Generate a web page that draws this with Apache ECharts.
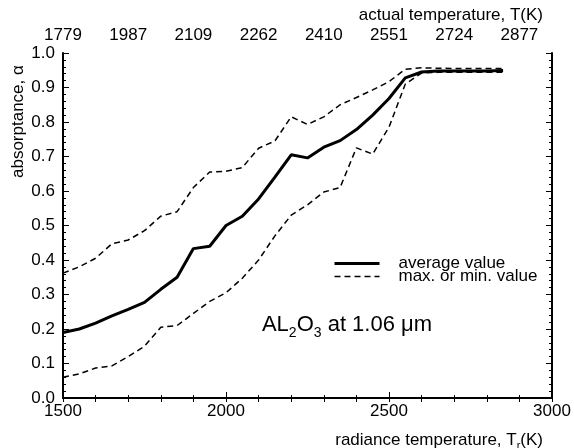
<!DOCTYPE html>
<html>
<head>
<meta charset="utf-8">
<script src="https://cdn.jsdelivr.net/npm/echarts@6/dist/echarts.min.js"></script>
<style>
  html, body { margin: 0; padding: 0; background: #fff; }
  #chart { width: 574px; height: 448px; }
</style>
</head>
<body>
<div id="chart"></div>
<script>
  // radiance temperature Tr (K)
  var radianceTemps = [1500, 1550, 1600, 1650, 1700, 1750, 1800, 1850, 1900, 1950,
    2000, 2050, 2100, 2150, 2200, 2250, 2300, 2350, 2400, 2450,
    2500, 2550, 2600, 2650, 2700, 2750, 2800, 2850];
  var averageValues = [0.190, 0.200, 0.217, 0.238, 0.257, 0.277, 0.315, 0.350, 0.433, 0.440,
    0.500, 0.527, 0.577, 0.640, 0.705, 0.696, 0.727, 0.746, 0.778, 0.820,
    0.868, 0.928, 0.945, 0.948, 0.948, 0.948, 0.948, 0.949];
  var maxValues = [0.362, 0.380, 0.405, 0.447, 0.458, 0.485, 0.527, 0.540, 0.610, 0.655,
    0.657, 0.668, 0.724, 0.745, 0.815, 0.793, 0.815, 0.850, 0.871, 0.893,
    0.917, 0.953, 0.957, 0.956, 0.955, 0.955, 0.955, 0.955];
  var minValues = [0.060, 0.070, 0.087, 0.093, 0.120, 0.150, 0.205, 0.210, 0.245, 0.280,
    0.305, 0.347, 0.400, 0.470, 0.530, 0.560, 0.597, 0.610, 0.725, 0.707,
    0.785, 0.910, 0.942, 0.944, 0.944, 0.944, 0.944, 0.944];
  // actual temperature labels on the top axis, every 200 K of radiance temperature
  var actualTempLabels = ['1779', '1987', '2109', '2262', '2410', '2551', '2724', '2877'];

  function pairs(ys) {
    return radianceTemps.map(function (x, i) { return [x, ys[i]]; });
  }

  var font = '"Liberation Sans", Arial, sans-serif';
  var chart = echarts.init(document.getElementById('chart'));

  var option = {
    animation: false,
    textStyle: { fontFamily: font, color: '#000' },
    grid: { left: 63, right: 22, top: 53, bottom: 50 },
    legend: {
      orient: 'vertical',
      left: 328,
      top: 250,
      padding: 5,
      itemWidth: 45,
      itemHeight: 12,
      itemGap: -4,
      itemStyle: { color: 'rgba(0,0,0,0)', borderColor: 'rgba(0,0,0,0)', borderWidth: 0 },
      textStyle: { fontSize: 17, lineHeight: 12, color: '#000', fontFamily: font, padding: [0, 0, 0, 14] },
      data: [
        { name: 'average value', lineStyle: { width: 3, color: '#000', type: 'solid' } },
        { name: 'max. or min. value', lineStyle: { width: 1.5, color: '#000', type: [6, 4] } }
      ]
    },
    xAxis: [{
      type: 'value',
      position: 'bottom',
      min: 1500,
      max: 3000,
      interval: 500,
      axisLine: { lineStyle: { color: '#000', width: 2 } },
      axisTick: { inside: true, length: 6, lineStyle: { color: '#000', width: 1 } },
      minorTick: { show: true, splitNumber: 5, length: 3, lineStyle: { color: '#000', width: 1 } },
      axisLabel: {
        color: '#000', fontSize: 17, margin: 5, fontFamily: font,
        formatter: function (v) { return String(v); }
      },
      splitLine: { show: false }
    }, {
      type: 'value',
      position: 'top',
      min: 0,
      max: 1500,
      interval: 100,
      axisLine: { lineStyle: { color: '#000', width: 2 } },
      axisTick: { inside: true, length: 4, lineStyle: { color: '#000', width: 1 } },
      axisLabel: {
        color: '#000', fontSize: 17, margin: 9, fontFamily: font,
        formatter: function (v) { return v % 200 === 0 ? actualTempLabels[v / 200] : ''; }
      },
      splitLine: { show: false }
    }],
    yAxis: [{
      type: 'value',
      position: 'left',
      min: 0,
      max: 1,
      interval: 0.1,
      axisLine: { show: true, lineStyle: { color: '#000', width: 2 } },
      axisTick: { inside: true, length: 6, lineStyle: { color: '#000', width: 1 } },
      minorTick: { show: true, splitNumber: 5, length: 3, lineStyle: { color: '#000', width: 1 } },
      axisLabel: {
        color: '#000', fontSize: 17, margin: 8, fontFamily: font,
        formatter: function (v) { return v.toFixed(1); }
      },
      splitLine: { show: false }
    }, {
      type: 'value',
      position: 'right',
      min: 0,
      max: 1,
      interval: 0.1,
      axisLine: { show: true, lineStyle: { color: '#000', width: 2 } },
      axisTick: { inside: true, length: 6, lineStyle: { color: '#000', width: 1 } },
      minorTick: { show: true, splitNumber: 5, length: 3, lineStyle: { color: '#000', width: 1 } },
      axisLabel: { show: false },
      splitLine: { show: false }
    }],
    series: [{
      name: 'max. or min. value',
      type: 'line',
      data: pairs(maxValues),
      symbol: 'none',
      lineStyle: { color: '#000', width: 1.5, type: [6, 4] },
      itemStyle: { color: '#000' }
    }, {
      name: 'max. or min. value',
      type: 'line',
      data: pairs(minValues),
      symbol: 'none',
      lineStyle: { color: '#000', width: 1.5, type: [6, 4] },
      itemStyle: { color: '#000' }
    }, {
      name: 'average value',
      type: 'line',
      data: pairs(averageValues),
      symbol: 'none',
      lineStyle: { color: '#000', width: 3 },
      itemStyle: { color: '#000' }
    }],
    graphic: [{
      type: 'text',
      x: 543,
      y: 15,
      style: { text: 'actual temperature, T(K)', align: 'right', verticalAlign: 'middle', fontSize: 17, fontFamily: font, fill: '#000' }
    }, {
      type: 'text',
      x: 543,
      y: 440,
      style: {
        text: '{n|radiance temperature, T}{s|r}{n|(K)}',
        align: 'right', verticalAlign: 'middle', fill: '#000',
        rich: {
          n: { fontSize: 17, fontFamily: font, lineHeight: 22, verticalAlign: 'middle' },
          s: { fontSize: 11, fontFamily: font, lineHeight: 11, verticalAlign: 'bottom' }
        }
      }
    }, {
      type: 'text',
      x: 18,
      y: 178,
      rotation: Math.PI / 2,
      style: { text: 'absorptance, α', align: 'left', verticalAlign: 'middle', fontSize: 17, fontFamily: font, fill: '#000' }
    }, {
      type: 'text',
      x: 347,
      y: 325,
      style: {
        text: '{n|AL}{s|2}{n|O}{s|3}{n| at 1.06 μm}',
        align: 'center', verticalAlign: 'middle', fill: '#000',
        rich: {
          n: { fontSize: 22, fontFamily: font, lineHeight: 30, verticalAlign: 'middle' },
          s: { fontSize: 14, fontFamily: font, lineHeight: 14, verticalAlign: 'bottom' }
        }
      }
    }]
  };

  chart.setOption(option);
</script>
</body>
</html>
